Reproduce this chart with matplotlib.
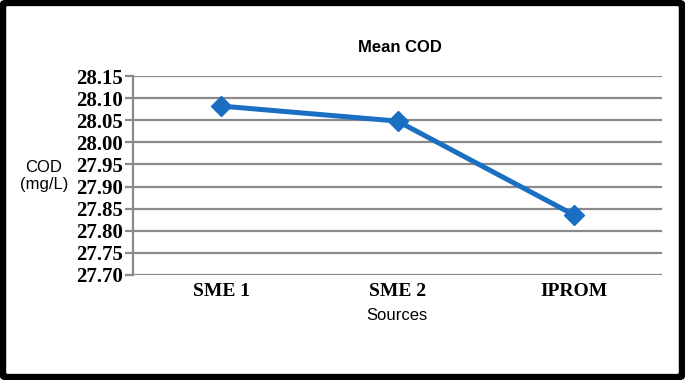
import matplotlib
matplotlib.use("Agg")
import matplotlib.pyplot as plt
from matplotlib.patches import FancyBboxPatch

categories = ["SME 1", "SME 2", "IPROM"]
cod_values = [28.082, 28.048, 27.836]
yticks = [27.70, 27.75, 27.80, 27.85, 27.90, 27.95, 28.00, 28.05, 28.10, 28.15]

fig = plt.figure(figsize=(6.85, 3.8), dpi=100)
ax = fig.add_axes([133/685, 1-275/380, (662-133)/685, (275-76)/380])

x = list(range(len(categories)))
ax.plot(x, cod_values, color="#1a6fc2", lw=3.6, marker="D", ms=10,
        markerfacecolor="#1a6fc2", markeredgecolor="#1a6fc2", zorder=3)

ax.set_xlim(-0.5, 2.5)
ax.set_ylim(27.70, 28.15)
ax.set_yticks(yticks)
ax.set_yticklabels([f"{v:.2f}" for v in yticks],
                   fontfamily="Liberation Serif", fontweight="bold", fontsize=15)
ax.set_xticks(x)
ax.set_xticklabels(categories, fontfamily="Liberation Serif", fontweight="bold", fontsize=14)
ax.grid(axis="y", color="#8a8a8a", lw=1.6)
ax.set_axisbelow(True)
for s in ["top", "right", "bottom"]:
    ax.spines[s].set_visible(False)
ax.spines["left"].set_color("#8a8a8a")
ax.spines["left"].set_linewidth(1.6)
ax.tick_params(axis="y", length=6, color="#8a8a8a", width=1.6, pad=1)
ax.tick_params(axis="x", length=0, pad=6)

fig.text(397/685, 1-316/380, "Sources", ha="center", va="center",
         fontfamily="Liberation Sans", fontsize=12)
fig.text(44/685, 1-176/380, "COD\n(mg/L)", ha="center", va="center",
         fontfamily="Liberation Sans", fontsize=12, linespacing=1.2)
fig.text(400/685, 1-47/380, "Mean COD", ha="center", va="center",
         fontfamily="Liberation Sans", fontweight="bold", fontsize=12)

border = FancyBboxPatch((0.004, 0.007), 0.992, 0.986, boxstyle="round,pad=0,rounding_size=0.008",
                        transform=fig.transFigure, fill=False, ec="black", lw=5)
fig.patches.append(border)

fig.savefig("out.png", dpi=100, facecolor="white")
